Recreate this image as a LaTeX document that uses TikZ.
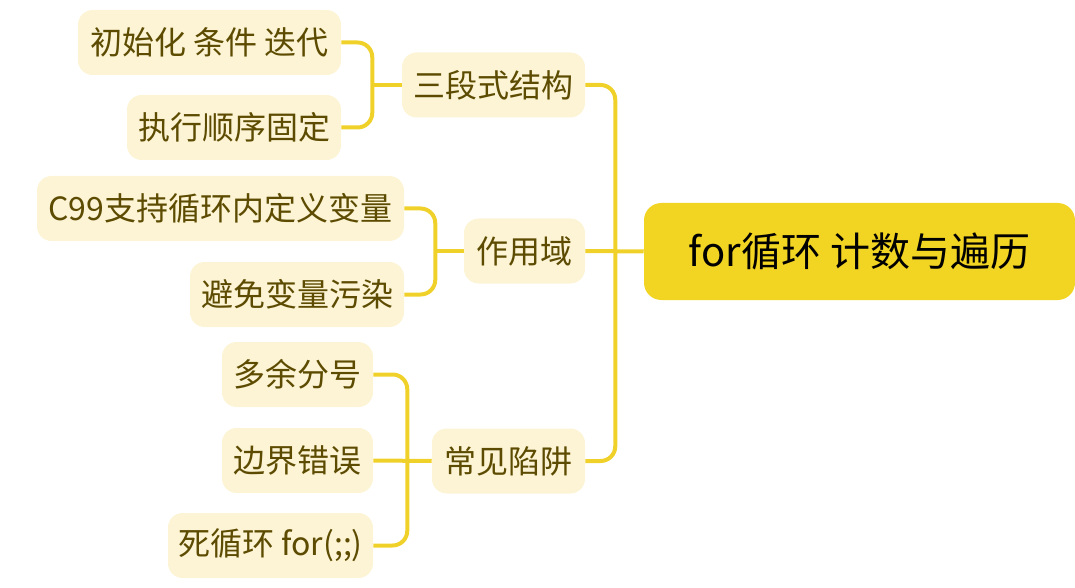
\documentclass[tikz,border=0pt]{standalone}
\usepackage{fontspec}
\setmainfont{Noto Sans CJK SC}
\definecolor{rootfill}{HTML}{F2D422}
\definecolor{subfill}{HTML}{FCF4D4}
\definecolor{subtext}{HTML}{5C4B00}
\definecolor{linecol}{HTML}{F0D12A}
\def\px{0.75pt}
\tikzset{
  sub/.style={fill=subfill, text=subtext, rounded corners=11pt, minimum height=65*\px,
    inner sep=0pt, font=\fontsize{24}{29}\selectfont, anchor=center},
  rootbox/.style={fill=rootfill, text=black, rounded corners=13pt, minimum height=97*\px,
    inner sep=0pt, font=\fontsize{30}{36}\selectfont, anchor=center},
  conn/.style={draw=linecol, line width=3pt, rounded corners=11pt},
}
\begin{document}
\begin{tikzpicture}[x=0.75pt,y=-0.75pt]
\path[use as bounding box] (0,0) rectangle (1075,588);
% root
\node[rootbox, minimum width=431*\px] (root) at (859.5,251.5) {for循环 计数与遍历};
% level 1
\node[sub, minimum width=183*\px] (r1) at (493.5,85) {三段式结构};
\node[sub, minimum width=121*\px] (r2) at (524.5,251) {作用域};
\node[sub, minimum width=153*\px] (r3) at (508.5,461) {常见陷阱};
% leaves
\node[sub, minimum width=263*\px] (a1) at (209.5,42.5) {初始化 条件 迭代};
\node[sub, minimum width=214*\px] (a2) at (234,127.5) {执行顺序固定};
\node[sub, minimum width=367*\px] (b1) at (220.5,208.5) {C99支持循环内定义变量};
\node[sub, minimum width=214*\px] (b2) at (297,294.5) {避免变量污染};
\node[sub, minimum width=151*\px] (c1) at (297.5,374.5) {多余分号};
\node[sub, minimum width=151*\px] (c2) at (297.5,460.5) {边界错误};
\node[sub, minimum width=205*\px] (c3) at (270.5,545.5) {死循环 for(;;)};
% connectors root
\draw[conn] (r1.east) -- ++(30,0) |- (r3.east);
\draw[conn] (r2.east) -- (root.west);
% group a
\draw[conn] (a1.east) -- ++(31,0) |- (a2.east);
\draw[conn] (r1.west) -- ++(-30,0);
% group b
\draw[conn] (b1.east) -- ++(31,0) |- (b2.east);
\draw[conn] (r2.west) -- ++(-29,0);
% group c
\draw[conn] (c1.east) -- ++(34,0) |- (c3.east);
\draw[conn] (c2.east) -- (r3.west);
\end{tikzpicture}
\end{document}
